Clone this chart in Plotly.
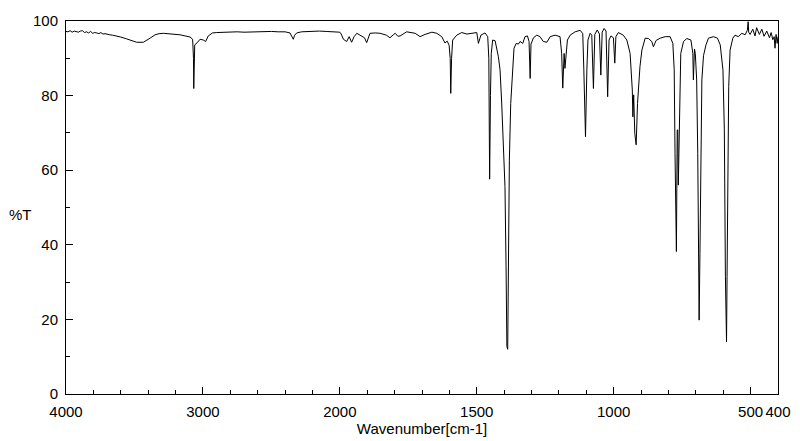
import plotly.graph_objects as go

# IR spectrum: wavenumber (cm-1) and transmittance (%T)
wavenumber = [
    4000, 3985, 3970, 3955, 3940, 3925, 3910, 3895, 3880, 3865, 3850, 3835, 3820, 3805,
    3790, 3775, 3760, 3745, 3730, 3715, 3700, 3680, 3660, 3630, 3600, 3557, 3520, 3484,
    3435, 3410, 3386, 3350, 3320, 3289, 3240, 3200, 3167, 3130, 3094, 3075, 3069, 3067,
    3064, 3060, 3041, 3021, 2997, 2980, 2961, 2930, 2899, 2850, 2800, 2750, 2700, 2650,
    2600, 2550, 2500, 2450, 2400, 2364, 2350, 2340, 2330, 2315, 2280, 2242, 2200, 2150,
    2100, 2050, 2023, 2000, 1995, 1987, 1975, 1966, 1957, 1948, 1938, 1920, 1910, 1902,
    1895, 1890, 1870, 1853, 1830, 1817, 1805, 1798, 1788, 1780, 1756, 1725, 1707, 1689,
    1664, 1646, 1628, 1616, 1608, 1601, 1597, 1595, 1592, 1588, 1573, 1555, 1536, 1512,
    1500, 1494, 1485, 1470, 1460, 1456, 1453, 1450, 1447, 1442, 1433, 1421, 1415, 1409,
    1403, 1397, 1393, 1390, 1387, 1385, 1381, 1376, 1369, 1364, 1356, 1348, 1342, 1332,
    1324, 1315, 1309, 1305, 1302, 1293, 1281, 1269, 1257, 1244, 1232, 1214, 1196, 1190,
    1186, 1181, 1178, 1174, 1169, 1159, 1141, 1122, 1113, 1109, 1103, 1098, 1094, 1086,
    1080, 1074, 1069, 1060, 1052, 1047, 1042, 1035, 1028, 1022, 1017, 1010, 1001, 996,
    992, 983, 965, 952, 940, 932, 930, 927, 923, 918, 913, 904, 897, 885, 873, 861, 855,
    845, 830, 812, 794, 784, 779, 776, 773, 771, 768, 766, 764, 761, 757, 755, 745, 733,
    718, 711, 709, 705, 702, 697, 693, 691, 688, 685, 682, 678, 672, 663, 654, 636, 621,
    611, 601, 596, 592, 588, 586, 583, 580, 575, 565, 557, 545, 532, 520, 512, 509, 507,
    502, 492, 484, 478, 468, 459, 451, 441, 431, 425, 419, 414, 411, 407, 403, 400,
]
transmittance = [
    97.2, 97.1, 97.4, 97.0, 97.3, 97.2, 97.0, 97.3, 97.4, 96.9, 97.1, 96.8, 97.2, 96.7,
    96.9, 96.8, 96.6, 96.9, 96.5, 96.6, 96.4, 96.3, 96.2, 96.0, 95.7, 95.2, 94.7, 94.3,
    94.3, 94.8, 95.4, 96.3, 96.6, 96.7, 96.6, 96.4, 96.3, 96.0, 95.7, 95.1, 90.0, 81.9,
    88.0, 93.6, 94.2, 95.1, 94.9, 94.5, 96.0, 96.8, 96.9, 97.0, 96.9, 97.1, 97.0, 97.1,
    97.2, 97.1, 97.2, 97.1, 97.1, 96.8, 96.0, 95.1, 96.2, 96.8, 97.1, 97.2, 97.2, 97.3,
    97.2, 97.2, 97.1, 97.0, 96.5, 95.1, 94.5, 95.8, 94.3, 95.8, 96.7, 96.0, 95.5, 94.2,
    95.6, 96.7, 96.8, 96.7, 96.2, 95.5, 96.3, 96.7, 95.9, 96.0, 97.1, 96.7, 95.8, 96.4,
    97.0, 96.7, 95.8, 94.1, 94.6, 93.5, 90.0, 80.6, 90.0, 94.9, 96.2, 96.9, 96.5, 96.8,
    96.9, 94.0, 96.2, 96.8, 95.8, 90.0, 57.6, 80.0, 91.3, 94.9, 94.7, 90.4, 86.9, 78.0,
    66.3, 55.6, 34.1, 12.7, 12.0, 34.1, 62.7, 77.9, 88.7, 92.7, 94.0, 93.8, 94.5, 94.0,
    95.8, 96.0, 94.5, 84.6, 93.8, 95.5, 96.2, 95.8, 94.5, 94.3, 95.8, 96.2, 95.8, 91.3,
    82.0, 91.3, 87.3, 90.5, 94.9, 96.2, 97.1, 97.5, 96.6, 86.9, 69.0, 86.9, 94.9, 96.7,
    96.2, 81.9, 96.4, 97.6, 96.5, 85.5, 97.0, 98.0, 97.3, 79.7, 94.9, 96.0, 95.5, 88.7,
    95.8, 96.9, 96.2, 94.9, 91.3, 81.5, 74.3, 80.2, 69.9, 66.8, 77.9, 87.8, 92.2, 95.4,
    95.3, 94.5, 93.1, 94.8, 95.4, 95.8, 95.8, 94.0, 86.9, 64.5, 46.6, 38.2, 70.8, 70.8,
    56.0, 67.0, 82.2, 91.3, 94.5, 95.3, 94.9, 91.3, 84.2, 92.5, 91.3, 84.2, 64.5, 37.7,
    19.8, 37.7, 64.5, 84.2, 90.7, 93.6, 95.4, 95.8, 95.4, 93.6, 86.9, 70.8, 31.4, 14.0,
    31.4, 55.6, 82.4, 92.2, 95.4, 96.2, 95.8, 96.7, 96.3, 97.5, 99.8, 97.0, 96.4, 97.8,
    96.0, 98.2, 96.4, 97.8, 95.9, 97.3, 95.5, 96.9, 95.0, 95.8, 92.7, 96.4, 94.0, 95.8,
]

x_tick_values = [4000, 3000, 2000, 1500, 1000, 500, 400]
x_tick_labels = ["4000", "3000", "2000", "1500", "1000", "500", "400"]
y_tick_values = [0, 20, 40, 60, 80, 100]


def to_axis(w):
    # the instrument scale doubles below 2000 cm-1
    return 4000 - w if w >= 2000 else 2000 + 2 * (2000 - w)


FONT = "Liberation Sans, Arial, sans-serif"

fig = go.Figure()
fig.add_trace(go.Scatter(
    x=[to_axis(w) for w in wavenumber],
    y=transmittance,
    mode="lines",
    line=dict(color="black", width=1),
    hoverinfo="skip",
    showlegend=False,
))

fig.update_layout(
    width=800, height=441,
    margin=dict(l=66, r=22, t=21, b=47, autoexpand=False),
    paper_bgcolor="white", plot_bgcolor="white",
    font=dict(family=FONT, size=15, color="black"),
    xaxis=dict(
        range=[0, to_axis(400)],
        tickmode="array",
        tickvals=[to_axis(w) for w in x_tick_values],
        ticktext=x_tick_labels,
        tickangle=0, automargin=False,
        ticks="inside", ticklen=7, tickcolor="black", tickwidth=1,
        ticklabelstandoff=4,
        minor=dict(ticks="inside", ticklen=4, tickcolor="black", dtick=200, tick0=0),
        showline=True, linecolor="black", linewidth=1, mirror=True,
        showgrid=False, zeroline=False,
        title=dict(text="Wavenumber[cm-1]", standoff=0, font=dict(size=15)),
    ),
    yaxis=dict(
        range=[0, 100], automargin=False,
        tickmode="array", tickvals=y_tick_values,
        ticks="inside", ticklen=7, tickcolor="black", tickwidth=1,
        ticklabelstandoff=4,
        minor=dict(ticks="inside", ticklen=4, tickcolor="black", dtick=10, tick0=0),
        showline=True, linecolor="black", linewidth=1, mirror=True,
        showgrid=False, zeroline=False,
    ),
    annotations=[dict(
        text="%T", xref="paper", yref="paper", x=-0.045, y=0.48,
        xanchor="right", yanchor="middle", showarrow=False, font=dict(size=15),
    )],
)

fig.write_html("out.html")
